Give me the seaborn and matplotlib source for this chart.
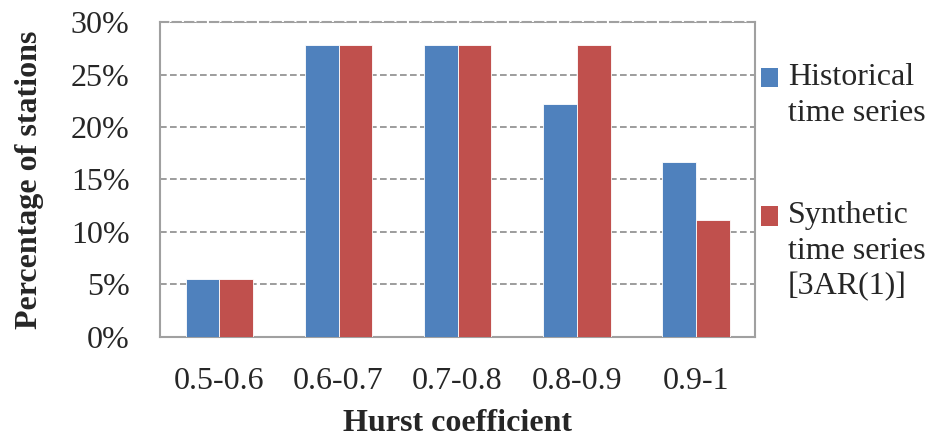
import matplotlib
matplotlib.use("Agg")
import matplotlib.pyplot as plt
import seaborn as sns
import pandas as pd
from matplotlib.patches import Patch
from matplotlib.ticker import PercentFormatter

categories = ["0.5-0.6", "0.6-0.7", "0.7-0.8", "0.8-0.9", "0.9-1"]
historical = [5.56, 27.78, 27.78, 22.22, 16.67]
synthetic = [5.56, 27.78, 27.78, 27.78, 11.11]
series_names = ["Historical\ntime series", "Synthetic\ntime series\n[3AR(1)]"]
colors = ["#4F81BD", "#C0504D"]

df = pd.DataFrame({
    "range": categories * 2,
    "value": historical + synthetic,
    "series": [series_names[0]] * len(categories) + [series_names[1]] * len(categories),
})

sns.set_style("white")
plt.rcParams["font.family"] = ["Liberation Serif", "DejaVu Serif"]
FS = 23

fig = plt.figure(figsize=(9.3, 4.41), dpi=100)
ax = fig.add_axes([0.172, 0.236, 0.640, 0.714])

sns.barplot(data=df, x="range", y="value", hue="series", palette=colors,
            width=0.57, saturation=1, ax=ax, legend=False, zorder=3)
for p in ax.patches:
    p.set_edgecolor("white")
    p.set_linewidth(0.6)

ax.set_ylim(0, 30)
ax.set_xlim(-0.5, 4.5)
ax.set_yticks(range(0, 31, 5))
ax.yaxis.set_major_formatter(PercentFormatter(decimals=0))
ax.yaxis.grid(True, linestyle=(0, (4, 2)), color="#8c8c8c", linewidth=1.2, zorder=0)
ax.set_axisbelow(True)
for s in ax.spines.values():
    s.set_visible(True)
    s.set_color("#a0a0a0")
    s.set_linewidth(1.5)
ax.spines["top"].set_linestyle((0, (4, 2)))

ax.tick_params(axis="both", labelsize=FS, length=0)
ax.tick_params(axis="y", pad=22)
ax.tick_params(axis="x", pad=22)
ax.set_xlabel("Hurst coefficient", fontsize=FS, fontweight="bold", labelpad=9)
ax.set_ylabel("Percentage of stations", fontsize=FS, fontweight="bold", labelpad=19)

handles = [Patch(facecolor=c, edgecolor="none") for c in colors]
leg = fig.legend(handles, series_names, loc="upper left", bbox_to_anchor=(0.818, 0.857),
                 frameon=False, fontsize=FS, handlelength=0.55, handleheight=0.55,
                 handletextpad=0.3, labelspacing=2.3, borderaxespad=0, borderpad=0)
line_pt = 25.2
for txt, h in zip(leg.get_texts(), leg.legend_handles):
    txt.set_linespacing(1.3)
    n_lines = txt.get_text().count("\n") + 1
    # keep each colour square beside the first line of its label
    h.set_y(h.get_y() + (n_lines - 1) / 2 * line_pt)

fig.savefig("out.png", dpi=100)
